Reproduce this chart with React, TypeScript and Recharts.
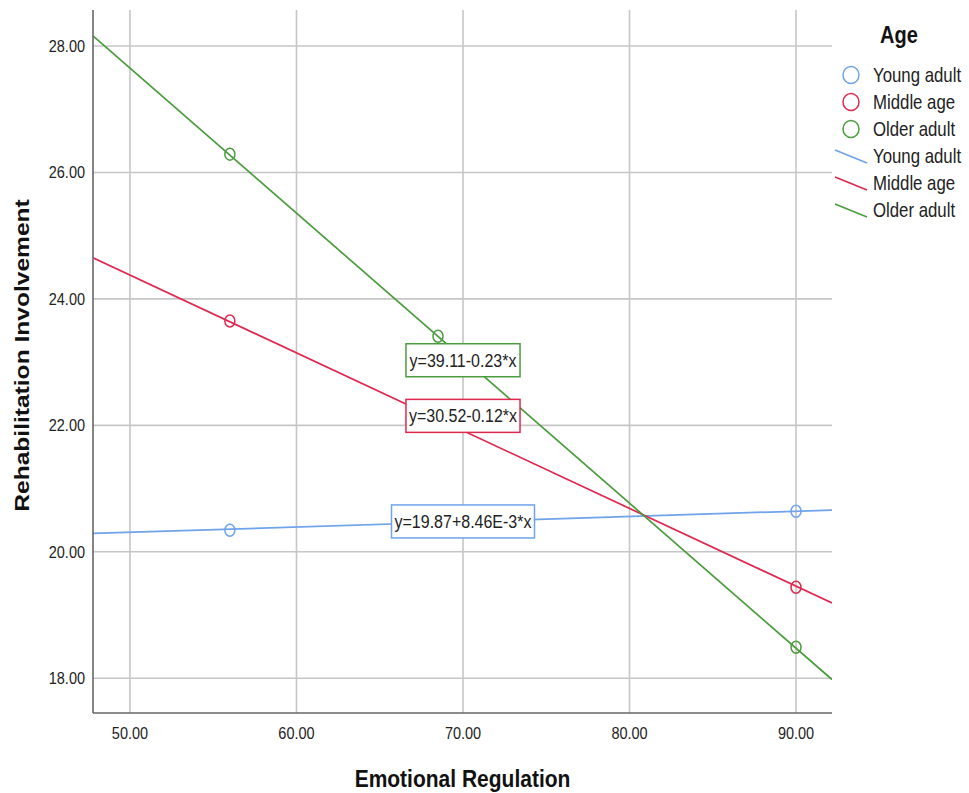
import React from 'react'
import {
  ComposedChart, Line, Scatter, XAxis, YAxis, CartesianGrid, ReferenceDot,
} from 'recharts'

// axis ticks
const xTicks = [50, 60, 70, 80, 90]
const yTicks = [18, 20, 22, 24, 26, 28]
const xDomain: [number, number] = [47.78, 92.16]
const yDomain: [number, number] = [17.45, 28.57]

// groups
const groups = ['Young adult', 'Middle age', 'Older adult']
const colors = ['#6fa3eb', '#e0284f', '#4b9c3e']

// observed means (circles)
const youngPoints = [{ x: 56, y: 20.34 }, { x: 90, y: 20.64 }]
const middlePoints = [{ x: 56, y: 23.65 }, { x: 90, y: 19.44 }]
const olderPoints = [{ x: 56, y: 26.29 }, { x: 68.5, y: 23.41 }, { x: 90, y: 18.49 }]

// fit lines (end points at the plot edges)
const youngFit = [{ x: 47.78, y: 20.29 }, { x: 92.16, y: 20.66 }]
const middleFit = [{ x: 47.78, y: 24.65 }, { x: 92.16, y: 19.19 }]
const olderFit = [{ x: 47.78, y: 28.16 }, { x: 92.16, y: 17.98 }]

// equation labels
const equations = ['y=19.87+8.46E-3*x', 'y=30.52-0.12*x', 'y=39.11-0.23*x']
const eqAnchors = [{ x: 70, y: 20.48 }, { x: 70, y: 22.15 }, { x: 70, y: 23.03 }]

const pointSets = [youngPoints, middlePoints, olderPoints]
const fitSets = [youngFit, middleFit, olderFit]

const FONT = '"Liberation Sans", Arial, sans-serif'
const STRETCH = 1.17 // the picture is a little taller than wide

// rough Arial widths, em units
const CW: Record<string, number> = {
  y: 0.5, '=': 0.584, '+': 0.584, '-': 0.333, '*': 0.389, x: 0.5, E: 0.667, '.': 0.278,
}
const textW = (s: string, size: number) =>
  s.split('').reduce((a, c) => a + (CW[c] ?? 0.556), 0) * size

function SText({ x, y, children, anchor = 'middle', size = 14, bold = false, fill = '#222', rotate = false }: any) {
  return (
    <text
      transform={`translate(${x},${y}) scale(1,${STRETCH})${rotate ? ' rotate(-90)' : ''}`}
      textAnchor={anchor}
      dominantBaseline="central"
      fontSize={size}
      fontWeight={bold ? 'bold' : 'normal'}
      fontFamily={FONT}
      fill={fill}
    >
      {children}
    </text>
  )
}

const Ring = (color: string) => (p: any) =>
  <ellipse cx={p.cx} cy={p.cy} rx={5} ry={6} fill="none" stroke={color} strokeWidth={1.5} />

const EqBox = (label: string, color: string) => (p: any) => {
  const w = textW(label, 16) + 6
  const h = 33
  return (
    <g>
      <rect x={p.cx - w / 2} y={p.cy - h / 2} width={w} height={h} fill="#fff" stroke={color} strokeWidth={1.5} />
      <SText x={p.cx} y={p.cy} size={16}>{label}</SText>
    </g>
  )
}

function AgeLegend() {
  const rows = [75, 102, 129, 156, 183, 210]
  return (
    <svg width={139} height={230} style={{ position: 'absolute', left: 830, top: 0 }}>
      <SText x={69} y={35} size={20} bold fill="#111">Age</SText>
      {groups.map((g, i) => (
        <g key={'c' + g}>
          <ellipse cx={21} cy={rows[i]} rx={8} ry={8.5} fill="none" stroke={colors[i]} strokeWidth={1.5} />
          <SText x={43} y={rows[i]} anchor="start" size={16.8}>{g}</SText>
        </g>
      ))}
      {groups.map((g, i) => (
        <g key={'l' + g}>
          <line x1={5} y1={rows[i + 3] - 6} x2={37} y2={rows[i + 3] + 7} stroke={colors[i]} strokeWidth={1.6} />
          <SText x={43} y={rows[i + 3]} anchor="start" size={16.8}>{g}</SText>
        </g>
      ))}
    </svg>
  )
}

export default function App() {
  return (
    <div style={{ position: 'absolute', left: 0, top: 0, width: 969, height: 793, background: '#fff' }}>
      <ComposedChart width={969} height={793} margin={{ top: 10, right: 137, left: 0, bottom: 0 }}>
        <CartesianGrid stroke="#c6c6c6" strokeWidth={1.6} horizontalValues={yTicks} verticalValues={xTicks} />
        <XAxis
          type="number" dataKey="x" domain={xDomain} ticks={xTicks} allowDataOverflow
          height={80} tickSize={0} tickMargin={0} stroke="#666" strokeWidth={1.6}
          tick={(p: any) => <SText x={p.x} y={p.y + 20} size={14.5}>{Number(p.payload.value).toFixed(2)}</SText>}
          label={(p: any) => {
            const vb = p.viewBox
            return <SText x={vb.x + vb.width / 2} y={778} size={21} bold fill="#111">Emotional Regulation</SText>
          }}
        />
        <YAxis
          type="number" dataKey="y" domain={yDomain} ticks={yTicks} allowDataOverflow
          width={93} tickSize={0} tickMargin={0} stroke="#666" strokeWidth={1.6}
          tick={(p: any) => <SText x={p.x - 8} y={p.y} anchor="end" size={14.5}>{Number(p.payload.value).toFixed(2)}</SText>}
          label={(p: any) => {
            const vb = p.viewBox
            return <SText x={22} y={vb.y + vb.height / 2 - 6} size={21} bold fill="#111" rotate>Rehabilitation Involvement</SText>
          }}
        />
        {fitSets.map((d, i) => (
          <Line key={'fit' + i} data={d} dataKey="y" type="linear" stroke={colors[i]} strokeWidth={1.7}
            dot={false} activeDot={false} isAnimationActive={false} legendType="none" />
        ))}
        {pointSets.map((d, i) => (
          <Scatter key={'pts' + i} data={d} dataKey="y" shape={Ring(colors[i])} isAnimationActive={false} legendType="none" />
        ))}
        {equations.map((eq, i) => (
          <ReferenceDot key={eq} x={eqAnchors[i].x} y={eqAnchors[i].y} r={0} ifOverflow="visible"
            shape={EqBox(eq, colors[i])} />
        ))}
      </ComposedChart>
      <AgeLegend />
    </div>
  )
}
